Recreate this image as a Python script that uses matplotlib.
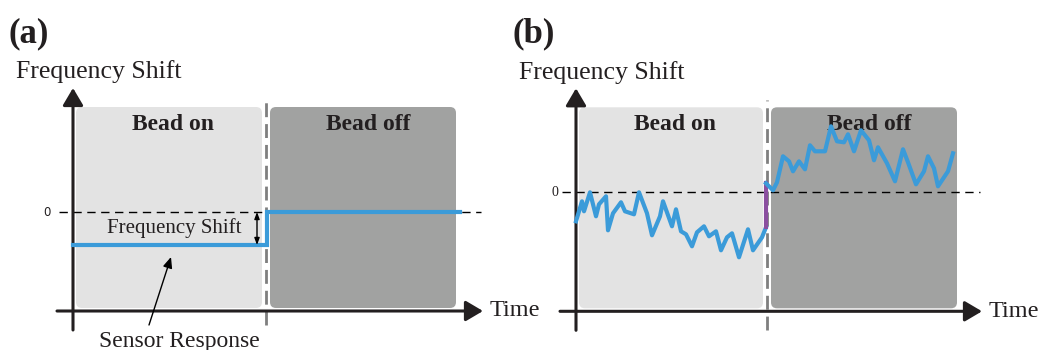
import numpy as np
import matplotlib.pyplot as plt
from matplotlib.patches import FancyBboxPatch

# Idealised sensor response (panel a): step back to zero when the bead leaves
time_a = [0.0, 19.4, 19.4, 38.7]
shift_a = [-3.3, -3.3, 0.0, 0.0]

# Measured-like response (panel b), bead on period
time_on = [0.0, 0.6, 0.8, 1.4, 2.0, 2.3, 3.0, 3.2, 3.7, 4.5, 4.9, 5.8, 6.3, 7.1,
           7.6, 8.4, 8.7, 9.6, 10.0, 10.5, 11.0, 11.6, 12.1, 12.8, 13.3, 14.0,
           14.5, 15.1, 15.6, 16.3, 17.2, 17.7, 18.6, 19.0]
shift_on = [-2.9, -0.9, -1.9, 0.0, -2.4, -1.2, -0.4, -3.8, -2.1, -1.0, -1.9,
            -2.2, 0.0, -2.1, -4.3, -2.4, -0.9, -3.4, -1.7, -3.9, -4.2, -5.4,
            -4.0, -3.4, -4.4, -3.9, -5.8, -4.5, -4.1, -6.5, -3.7, -5.8, -4.5, -3.5]

# bead off period
time_off = [19.0, 19.7, 20.1, 20.7, 21.3, 21.7, 22.3, 22.9, 23.4, 23.9, 24.9,
            25.5, 26.1, 26.8, 27.2, 27.8, 28.5, 29.3, 29.8, 30.2, 31.1, 31.9,
            32.7, 33.2, 34.0, 34.8, 35.2, 35.8, 36.2, 37.2, 37.7]
shift_off = [0.9, 0.2, 1.0, 3.6, 3.1, 2.1, 3.1, 2.3, 4.7, 4.1, 4.1, 6.6, 5.1,
             5.0, 5.8, 4.1, 6.2, 5.2, 3.2, 4.5, 2.9, 1.1, 4.3, 3.0, 0.8, 2.1,
             3.6, 2.4, 0.6, 2.1, 3.9]

BLUE = '#3b9bd9'
PURPLE = '#8b4fa0'
LIGHT = '#e3e3e3'
DARK = '#a1a2a1'
INK = '#231f20'
SERIF = ['Liberation Serif', 'DejaVu Serif']
FLECHA = '-|>,head_length=1.05,head_width=0.62'


def dibujar_panel(ax, letra, box_top, box_bot, axis_y, y_bot, xmax, zero_end, split, sep_bot):
    # fondos "Bead on" / "Bead off"
    for x0, x1, color in [(0.3, split - 0.4, LIGHT), (split + 0.4, split + 19.0, DARK)]:
        ax.add_patch(FancyBboxPatch((x0, box_bot), x1 - x0, box_top - box_bot,
                                    boxstyle='round,pad=0,rounding_size=0.6',
                                    fc=color, ec='none', zorder=1))
    # separador vertical discontinuo
    ax.plot([split, split], [sep_bot, box_top + 0.7], color='#7f7f7f', lw=2,
            dashes=(5, 2.5), zorder=2)
    # linea de cero
    ax.plot([-1.4, zero_end], [0, 0], color='black', lw=1, dashes=(6, 4), zorder=3)
    # ejes con flecha
    ax.annotate('', xy=(0, axis_y + 22.3), xytext=(0, y_bot),
                arrowprops=dict(arrowstyle=FLECHA, color=INK, lw=2.2,
                                shrinkA=0, shrinkB=0), zorder=4)
    ax.annotate('', xy=(xmax, axis_y), xytext=(-1.6, axis_y),
                arrowprops=dict(arrowstyle=FLECHA, color=INK, lw=2.2,
                                shrinkA=0, shrinkB=0), zorder=4)
    ax.text(xmax + 0.7, axis_y, 'Time', family=SERIF, fontsize=17.5, color=INK,
            ha='left', va='center')
    ax.text(-6.4, axis_y + 27.7, letra, family=SERIF, fontsize=25, fontweight='bold',
            color=INK, ha='left', va='center')
    ax.text(-5.7, axis_y + 23.9, 'Frequency Shift', family=SERIF, fontsize=18.5,
            color=INK, ha='left', va='center')
    ax.text(split / 2 + 0.4, box_top - 1.7, 'Bead on', family=SERIF, fontsize=17,
            fontweight='bold', color=INK, ha='center', va='center', zorder=5)
    ax.text(split + 10.2, box_top - 1.7, 'Bead off', family=SERIF, fontsize=17,
            fontweight='bold', color=INK, ha='center', va='center', zorder=5)


fig = plt.figure(figsize=(10.47, 3.5), dpi=100)

# Panel (a)
ax1 = fig.add_axes([0, 0, 523 / 1047, 1])
ax1.set_xlim(-7.3, 45.0)
ax1.set_ylim(-13.8, 21.2)
ax1.axis('off')
dibujar_panel(ax1, '(a)', 10.5, -9.6, -9.9, -11.8, 41.0, 40.8, 19.3, -11.3)
ax1.text(-2.2, 0, '0', fontsize=8.5, color=INK, ha='right', va='center')
ax1.plot(time_a, shift_a, color=BLUE, lw=3, solid_joinstyle='miter', zorder=6)
ax1.annotate('', xy=(18.4, 0), xytext=(18.4, shift_a[0]),
             arrowprops=dict(arrowstyle='<|-|>,head_length=0.4,head_width=0.15',
                             color='black', lw=1, shrinkA=0, shrinkB=0), zorder=6)
ax1.text(10.1, -1.6, 'Frequency Shift', family=SERIF, fontsize=15, color=INK,
         ha='center', va='center', zorder=6)
ax1.annotate('', xy=(9.8, -4.5), xytext=(7.6, -11.3),
             arrowprops=dict(arrowstyle='-|>,head_length=0.65,head_width=0.28',
                             color='black', lw=1, shrinkA=0, shrinkB=0), zorder=6)
ax1.text(10.6, -12.9, 'Sensor Response', family=SERIF, fontsize=17, color=INK,
         ha='center', va='center')

# Panel (b)
ax2 = fig.add_axes([523 / 1047, 0, 524 / 1047, 1])
ax2.set_xlim(-5.3, 47.1)
ax2.set_ylim(-15.77, 19.23)
ax2.axis('off')
dibujar_panel(ax2, '(b)', 8.5, -11.6, -11.9, -13.8, 40.6, 40.4, 19.1, -13.8)
ax2.text(-1.8, 0, '0', family=SERIF, fontsize=10, color=INK, ha='right', va='center')
ax2.plot(time_on, shift_on, color=BLUE, lw=3, zorder=6)
ax2.plot([time_on[-1], time_off[0]], [shift_on[-1], shift_off[0]], color=PURPLE,
         lw=3, zorder=6)
ax2.plot(time_off, shift_off, color=BLUE, lw=3, zorder=6)

fig.savefig('out.png', dpi=100)
